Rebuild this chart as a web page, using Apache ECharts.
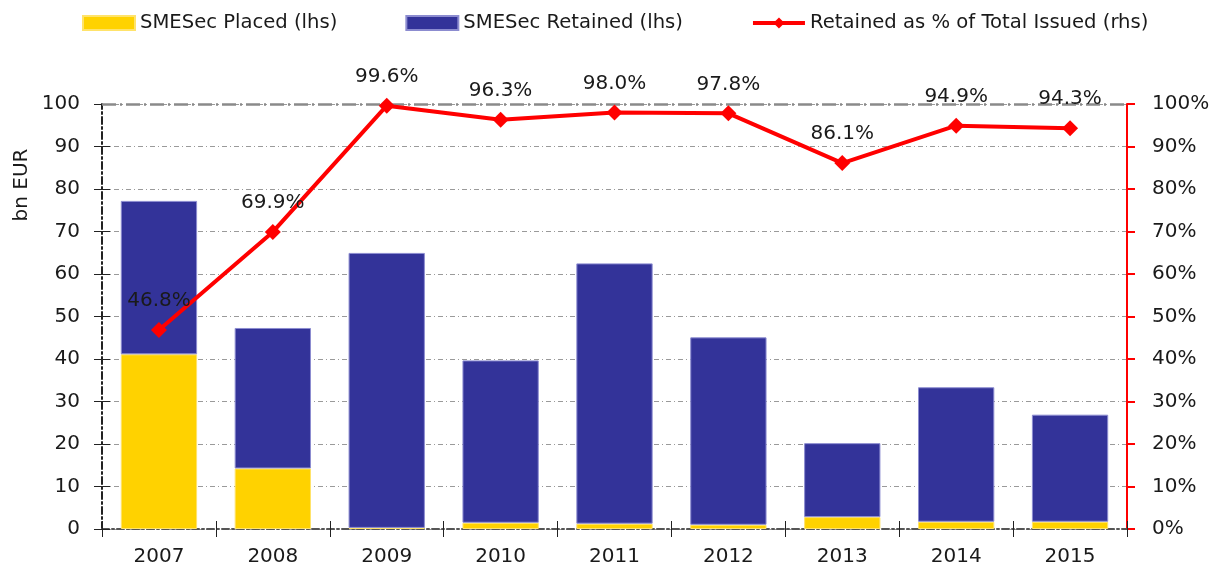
<!DOCTYPE html>
<html>
<head>
<meta charset="utf-8">
<script src="https://cdn.jsdelivr.net/npm/echarts@6/dist/echarts.min.js"></script>
<style>
  html, body { margin: 0; padding: 0; background: #fff; }
  #chart { width: 1216px; height: 572px; }
</style>
</head>
<body>
<div id="chart"></div>
<script>
// SME securitisation issuance, bn EUR, and share retained by originators
const years = ['2007', '2008', '2009', '2010', '2011', '2012', '2013', '2014', '2015'];
const placed = [41.1, 14.25, 0.26, 1.47, 1.25, 0.99, 2.8, 1.7, 1.7];
const retained = [36.1, 33.05, 64.7, 38.2, 61.25, 44.1, 17.4, 31.65, 25.2];
const retainedPct = [46.8, 69.9, 99.6, 96.3, 98.0, 97.8, 86.1, 94.9, 94.3];

const FONT = 'DejaVu Sans';
const TXT = '#1a1a1a';
const dashDot = [7, 3, 2, 3];

const chart = echarts.init(document.getElementById('chart'), null, { renderer: 'canvas' });

chart.setOption({
  animation: false,
  backgroundColor: '#ffffff',
  textStyle: { fontFamily: FONT, color: TXT },
  legend: {
    left: 77,
    top: 8,
    itemWidth: 52,
    itemHeight: 14,
    itemGap: 68,
    textStyle: { fontFamily: FONT, fontSize: 19.6, color: TXT },
    data: [
      { name: 'SMESec Placed (lhs)', icon: 'rect' },
      { name: 'SMESec Retained (lhs)', icon: 'rect' },
      {
        name: 'Retained as % of Total Issued (rhs)',
        lineStyle: { color: '#ff0000', width: 4 },
        itemStyle: { color: '#ff0000' }
      }
    ]
  },
  grid: { left: 102, right: 89, top: 104, bottom: 43, containLabel: false },
  graphic: [{
    type: 'text',
    x: 21.5,
    y: 185,
    rotation: Math.PI / 2,
    style: {
      text: 'bn EUR',
      font: '20px "DejaVu Sans"',
      fill: TXT,
      align: 'center',
      verticalAlign: 'middle'
    }
  }],
  xAxis: [{
    type: 'category',
    data: years,
    boundaryGap: true,
    axisLine: { show: true, lineStyle: { color: '#555', width: 2, type: dashDot } },
    axisTick: { show: true, length: 8, lineStyle: { color: '#222', width: 1 } },
    axisLabel: { fontFamily: FONT, fontSize: 20, color: TXT, margin: 18 },
    splitLine: { show: false }
  }, {
    type: 'category',
    data: years,
    position: 'bottom',
    boundaryGap: true,
    axisLine: { show: false },
    axisTick: { show: true, inside: true, length: 8, lineStyle: { color: '#222', width: 1 } },
    axisLabel: { show: false },
    splitLine: { show: false }
  }],
  yAxis: [{
    type: 'value',
    position: 'left',
    min: 0, max: 100, interval: 10,
    axisLine: { show: true, lineStyle: { color: '#222', width: 2, type: dashDot } },
    axisTick: { show: true, length: 8, lineStyle: { color: '#222', width: 1 } },
    axisLabel: { fontFamily: FONT, fontSize: 20, color: TXT, margin: 22 },
    splitLine: { show: true, lineStyle: { color: '#9a9a9a', width: 1, type: [5, 3, 1, 3] } }
  }, {
    type: 'value',
    position: 'right',
    min: 0, max: 100, interval: 10,
    axisLine: { show: true, lineStyle: { color: '#ff0000', width: 2 } },
    axisTick: { show: true, length: 8, lineStyle: { color: '#ff0000', width: 2 } },
    axisLabel: { fontFamily: FONT, fontSize: 20, color: TXT, margin: 25, formatter: '{value}%' },
    splitLine: { show: false }
  }, {
    type: 'value',
    position: 'left',
    min: 0, max: 100, interval: 10,
    axisLine: { show: false },
    axisTick: { show: true, inside: true, length: 8, lineStyle: { color: '#222', width: 1 } },
    axisLabel: { show: false },
    splitLine: { show: false }
  }],
  series: [{
    name: 'SMESec Placed (lhs)',
    type: 'bar',
    stack: 'issued',
    data: placed,
    barCategoryGap: '33%',
    itemStyle: { color: '#ffd200', borderColor: '#ffe36b', borderWidth: 1 },
    markLine: {
      silent: true,
      symbol: 'none',
      label: { show: false },
      lineStyle: { color: '#8a8a8a', width: 2.5, type: [14, 4, 2, 4] },
      data: [{ yAxis: 100 }]
    }
  }, {
    name: 'SMESec Retained (lhs)',
    type: 'bar',
    stack: 'issued',
    data: retained,
    barCategoryGap: '33%',
    itemStyle: { color: '#333399', borderColor: '#8c8cd0', borderWidth: 1 }
  }, {
    name: 'Retained as % of Total Issued (rhs)',
    type: 'line',
    yAxisIndex: 1,
    data: retainedPct,
    symbol: 'diamond',
    symbolSize: 16,
    lineStyle: { color: '#ff0000', width: 4 },
    itemStyle: { color: '#ff0000' },
    label: {
      show: true,
      position: 'top',
      distance: 11,
      fontFamily: FONT,
      fontSize: 20,
      color: TXT,
      formatter: p => p.value.toFixed(1) + '%'
    },
    z: 5
  }]
});
</script>
</body>
</html>
